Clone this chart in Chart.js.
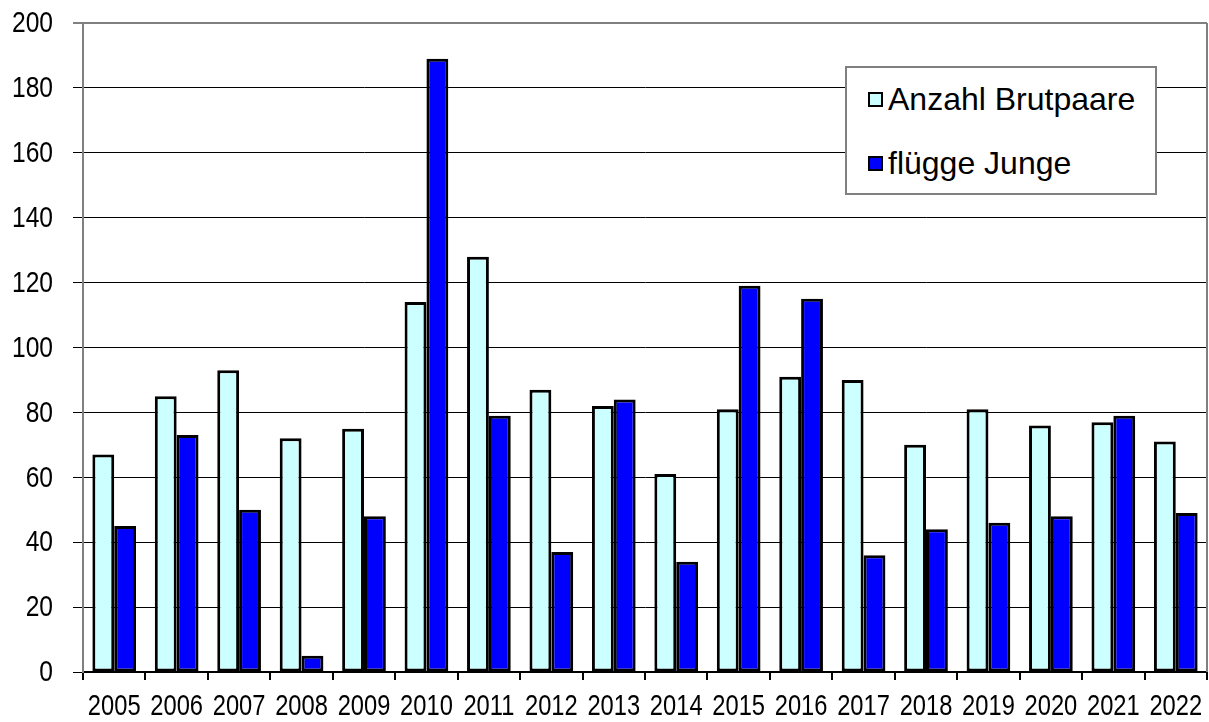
<!DOCTYPE html>
<html lang="de">
<head>
    <meta charset="UTF-8">
    <title>Brutpaare und flügge Junge 2005–2022</title>
    <script src="https://cdn.jsdelivr.net/npm/chart.js"></script>
    <style>
        body, html {
            margin: 0;
            background: #fff;
        }
        .chart-container {
            position: relative;
            width: 1209px;
            height: 722px;
        }
        #legend {
            position: absolute;
            left: 845px;
            top: 66px;
            width: 308px;
            height: 125px;
            border: 2px solid #808080;
            background: #fff;
            font-family: "Liberation Sans", Arial, sans-serif;
            font-size: 32px;
            color: #000;
        }
        #legend .item {
            position: absolute;
            left: 21px;
            display: flex;
            align-items: center;
            white-space: nowrap;
        }
        #legend .box {
            width: 11px;
            height: 11px;
            border: 2px solid #000;
            margin-right: 5px;
        }
    </style>
</head>
<body>
    <div class="chart-container">
        <canvas id="brutChart" width="1209" height="722"></canvas>
        <div id="legend"></div>
    </div>
    <script>
        const years = ['2005', '2006', '2007', '2008', '2009', '2010', '2011', '2012', '2013',
                       '2014', '2015', '2016', '2017', '2018', '2019', '2020', '2021', '2022'];
        const brutpaare = [67, 85, 93, 72, 75, 114, 128, 87, 82, 61, 81, 91, 90, 70, 81, 76, 77, 71];
        const junge = [45, 73, 50, 5, 48, 189, 79, 37, 84, 34, 119, 115, 36, 44, 46, 48, 79, 49];
        const yTicks = [0, 20, 40, 60, 80, 100, 120, 140, 160, 180, 200];

        const seriesLabels = ['Anzahl Brutpaare', 'flügge Junge'];
        const seriesColors = ['#CCFFFF', '#0000FF'];

        // tick labels are drawn by hand so they can be narrowed like the original font
        const tickText = {
            id: 'tickText',
            afterDraw(chart) {
                const ctx = chart.ctx;
                const xs = chart.scales.x;
                const ys = chart.scales.y;
                ctx.save();
                ctx.font = '30px "Liberation Sans", Arial, sans-serif';
                ctx.fillStyle = '#000';
                ctx.textBaseline = 'middle';

                ctx.textAlign = 'right';
                yTicks.forEach(v => {
                    ctx.save();
                    ctx.translate(53, ys.getPixelForValue(v) + 1);
                    ctx.scale(0.82, 1);
                    ctx.fillText(String(v), 0, 0);
                    ctx.restore();
                });

                ctx.textAlign = 'center';
                years.forEach((y, i) => {
                    ctx.save();
                    ctx.translate(xs.getPixelForTick(i), 707);
                    ctx.scale(0.79, 1);
                    ctx.fillText(y, 0, 0);
                    ctx.restore();
                });

                // plot area frame on the right
                const a = chart.chartArea;
                ctx.strokeStyle = '#808080';
                ctx.lineWidth = 2;
                ctx.beginPath();
                ctx.moveTo(a.right, a.top);
                ctx.lineTo(a.right, a.bottom);
                ctx.stroke();
                ctx.restore();
            }
        };

        const ctx = document.getElementById('brutChart').getContext('2d');
        const brutChart = new Chart(ctx, {
            type: 'bar',
            data: {
                labels: years,
                datasets: [{
                    label: seriesLabels[0],
                    data: brutpaare,
                    backgroundColor: seriesColors[0],
                    borderColor: '#000',
                    borderWidth: 3,
                    borderSkipped: false
                }, {
                    label: seriesLabels[1],
                    data: junge,
                    backgroundColor: seriesColors[1],
                    borderColor: '#000',
                    borderWidth: 3,
                    borderSkipped: false
                }]
            },
            options: {
                responsive: false,
                animation: false,
                layout: {
                    padding: { left: 73, top: 23, right: 2, bottom: 42 }
                },
                datasets: {
                    bar: {
                        categoryPercentage: 0.7,
                        barPercentage: 1.0
                    }
                },
                plugins: {
                    legend: { display: false },
                    tooltip: { enabled: false }
                },
                scales: {
                    x: {
                        grid: {
                            offset: true,
                            drawOnChartArea: false,
                            drawTicks: true,
                            tickLength: 8,
                            color: '#000',
                            lineWidth: 2
                        },
                        border: { color: '#000', width: 2 },
                        ticks: { display: false }
                    },
                    y: {
                        min: 0,
                        max: 200,
                        ticks: { display: false, stepSize: 20 },
                        grid: {
                            tickLength: 10,
                            color: c => c.tick && c.tick.value === 200 ? '#808080' : '#000',
                            lineWidth: c => c.tick && c.tick.value === 200 ? 2 : 1
                        },
                        border: { color: '#808080', width: 2 }
                    }
                }
            },
            plugins: [tickText]
        });

        // legend box inside the plot area
        const legend = document.getElementById('legend');
        seriesLabels.forEach((label, i) => {
            const item = document.createElement('div');
            item.className = 'item';
            item.style.top = (i === 0 ? 13 : 77) + 'px';
            const box = document.createElement('span');
            box.className = 'box';
            box.style.background = seriesColors[i];
            item.appendChild(box);
            item.appendChild(document.createTextNode(label));
            legend.appendChild(item);
        });
    </script>
</body>
</html>
